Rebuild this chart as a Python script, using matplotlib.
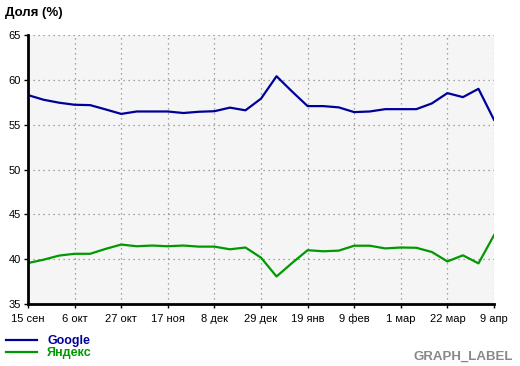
import numpy as np
import matplotlib
matplotlib.use('Agg')
from matplotlib import pyplot as plt

plt.rcParams['font.family'] = ['Liberation Sans', 'DejaVu Sans']

# weekly points, 15 Sep .. 9 Apr
tick_labels = ['15 сен', '6 окт', '27 окт', '17 ноя', '8 дек', '29 дек',
               '19 янв', '9 фев', '1 мар', '22 мар', '9 апр']

google = [58.3, 57.78, 57.45, 57.22, 57.18, 56.7, 56.2, 56.47, 56.47, 56.47,
          56.3, 56.44, 56.5, 56.9, 56.6, 57.9, 60.4, 58.7, 57.07, 57.07,
          56.93, 56.4, 56.47, 56.73, 56.73, 56.73, 57.37, 58.52, 58.07, 59.0,
          55.54]
yandex = [39.57, 39.94, 40.4, 40.6, 40.6, 41.15, 41.63, 41.44, 41.52, 41.44,
          41.52, 41.4, 41.4, 41.1, 41.3, 40.17, 38.07, 39.57, 41.0, 40.88,
          40.95, 41.5, 41.5, 41.2, 41.3, 41.27, 40.8, 39.75, 40.43, 39.53,
          42.67]

x = np.arange(len(google))

fig = plt.figure(figsize=(5.2, 3.66), dpi=100)
ax = fig.add_axes([28/520, 1 - 304/366, (494 - 28)/520, (304 - 35)/366])
ax.set_facecolor('#f5f5f5')

l1, = ax.plot(x, google, color='#000099', lw=1.6, label='Google')
l2, = ax.plot(x, yandex, color='#009900', lw=1.6, label='Яндекс')

ax.set_xlim(0, 30)
ax.set_ylim(35, 65)
ax.set_xticks(np.arange(0, 31, 3))
ax.set_xticklabels(tick_labels, va='baseline')
ax.set_yticks(np.arange(35, 66, 5))
ax.grid(True, color='#888888', linestyle=(0, (1, 3)), linewidth=0.9)
ax.tick_params(labelsize=8, length=3, width=1, pad=2)
ax.tick_params(axis='x', pad=10)

for s in ['top', 'right']:
    ax.spines[s].set_visible(False)
for s in ['left', 'bottom']:
    ax.spines[s].set_linewidth(2)

fig.text(5/520, 1 - 13/366, 'Доля (%)', fontsize=9.5, fontweight='bold', va='center')

leg = fig.legend(handles=[l1, l2], loc='upper left',
                 bbox_to_anchor=(6/520, 1 - 335/366), frameon=False,
                 fontsize=9, handlelength=2.5, handletextpad=0.8,
                 labelspacing=0.0, borderpad=0, borderaxespad=0)
for t, c in zip(leg.get_texts(), ['#000099', '#009900']):
    t.set_color(c)
    t.set_fontweight('bold')

fig.text(513/520, 1 - 357/366, 'GRAPH_LABEL', fontsize=9.5, fontweight='bold',
         color='#888888', ha='right', va='center')

fig.savefig('out.png', dpi=100)
